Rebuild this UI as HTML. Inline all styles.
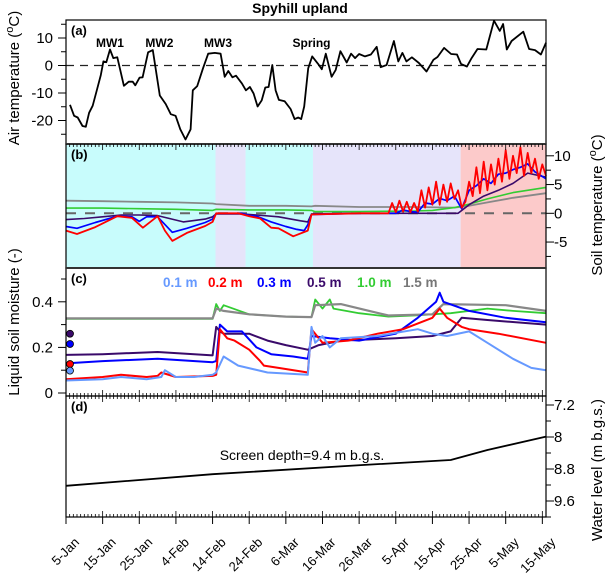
<!DOCTYPE html>
<html><head><meta charset="utf-8"><style>
html,body{margin:0;padding:0;background:#fff;}
svg{display:block;font-family:"Liberation Sans",Arial,sans-serif;}
</style></head><body>
<svg id="c" width="611" height="584" xmlns="http://www.w3.org/2000/svg"></svg>
<script>
// ---------- DATA ----------
const dateLabels = ["5-Jan","15-Jan","25-Jan","4-Feb","14-Feb","24-Feb","6-Mar","16-Mar","26-Mar","5-Apr","15-Apr","25-Apr","5-May","15-May"];
const airDays = [1.1,2.2,3.2,4.5,5.4,6.3,7.3,8.4,9.5,10.2,11,12,12.9,14,15.8,17.1,18.2,18.9,20.1,20.9,22.4,23.7,25.6,27.2,28.6,29.9,31.2,32.6,34,34.6,35.8,37.4,38.8,40.6,42.2,43.3,44.3,45.4,46.4,48,49.1,50.2,51.2,52.3,53.4,54.4,55.3,56.3,57.2,58.1,59.7,61.3,62.4,63.4,64.2,65,66.1,67.2,68.8,69.8,70.9,72.5,73.6,74.9,76.6,77.8,78.9,80,81.6,83.2,84.8,85.9,87.5,89.5,90.7,91.8,92.9,94.4,96.3,98.4,100.3,101.4,103.2,105.1,106.7,107.8,109.4,110.7,112.3,114.7,116.8,118.4,119.3,120.3,121.6,124.8,126.4,128,129.6,131];
const airTemp = [-14.3,-18.3,-18.9,-22,-22.3,-17.2,-14.6,-9,-3.5,1.5,1.2,5.8,2.7,3,-7.4,-5.9,-5.9,-7.2,-4.4,-4.3,4.8,5.6,-10.9,-14,-17.7,-18.3,-23.2,-26.9,-23.2,-9,-7.5,-1,4.3,4.6,4.3,-4.1,-2,-4.3,-3.7,-6.5,-9,-7.8,-10.2,-14.9,-12.7,-8,-7.8,0.2,-9,-12.5,-13,-15.8,-19.5,-18.9,-19.5,-14.9,-1,3.3,0.6,-1.4,4.3,-4.1,-1.6,5.2,1.1,4.3,2.7,4.2,3.3,4,6.8,-0.6,0.2,8.9,1.5,4.6,1.5,3,0.9,-2.2,2.1,3.1,6.4,4.2,4,0.6,-0.4,2.7,6,5.8,16.3,12.6,15.1,5.8,8.9,12.3,6,5.6,4,8.3];
const airLabels = ["MW1","MW2","MW3","Spring"];
const airLabelDays = [12,25.5,41.5,67];

const periodStarts = [0,40.8,49,67.4,107.7];
const periodEnds = [40.8,49,67.4,107.7,131];
const periodFill = ["#c8fcfc","#e6e4fa","#c8fcfc","#e6e4fa","#fccaca"];

// soil temperature (b)
const stGrayD=[0,10,20,30,40,41,50,60,67,68,80,95,106,110,116,122,131];
const stGrayV=[2.2,2.1,2.0,1.9,1.7,1.6,1.3,1.3,1.2,1.3,1.1,1.1,1.0,1.3,2.0,2.7,3.5];
const stGreenD=[0,10,20,30,40,41,50,60,67,68,80,95,100,106,110,115,122,131];
const stGreenV=[0.9,0.9,0.8,0.7,0.5,0.7,0.6,0.6,0.5,0.3,0.3,0.4,0.5,1.0,1.6,2.5,3.6,4.5];
const stPurpleD=[0,5,10,15,20,25,32,38,40,41,48,52,58,64,66,67,80,100,107,110,114,118,122,126,131];
const stPurpleV=[-1.1,-0.9,-0.6,-0.3,-0.3,-0.4,-1.5,-1.0,-0.6,-0.1,-0.1,-0.3,-0.6,-1.3,-1.5,-0.1,0,0,0,1.5,3,4,5.2,7,6.3];
const stBlueD=[0,3,8,14,18,20,22,25,29,33,38,40,41,48,50,52,56,60,63,65,66,67,80,90,92,94,96,98,100,102,104,106,108,110,112,114,116,118,120,122,124,126,128,131];
const stBlueV=[-2.3,-2.6,-1.6,-0.5,-0.6,-1.4,-0.6,-0.6,-3.3,-2.6,-1.6,-1.0,0,0,-0.4,-0.5,-1.5,-2.3,-2.8,-3.0,-2.0,-0.2,0,0,0.6,0.3,0.2,1.8,1.6,2.6,2.2,3.0,0.8,4.0,4.8,6.0,5.2,6.8,7.0,7.6,8.0,8.6,7.2,6.0];
const stRedD=[0,3,8,14,18,21,25,27,29,33,38,40,41,47,50,53,56,58,62,66,67,80,88,89,90,91,92,93,94,95,96,97,98,99,100,101,102,103,104,105,106,107,108,109,110,111,112,113,114,115,116,117,118,119,120,121,122,123,124,125,126,127,128,129,130,131];
const stRedV=[-3.0,-3.6,-2.4,-0.5,-0.8,-2.5,-0.5,-3.0,-4.8,-3.4,-2.2,-1.5,0,0,-0.5,-0.9,-2.5,-2.6,-4.0,-3.0,-0.2,0,0,1.8,0.2,2.2,0.3,2.0,0.2,1.8,0.3,4.0,1.0,4.5,1.5,5.5,1.5,5.0,2.0,5.2,2.5,4.0,1.0,2.0,5.5,3.0,8.0,3.5,9.0,4.0,8.5,5.0,9.5,5.5,11.0,6.0,10.0,7.0,11.5,6.5,10.5,7.0,9.5,6.0,8.5,6.5];

// soil moisture (c)
const smGrayD=[0,40,41,43,50,60,67,68,75,88,100,103,120,131];
const smGrayV=[0.327,0.327,0.37,0.36,0.345,0.335,0.333,0.385,0.39,0.34,0.345,0.39,0.385,0.36];
const smGreenD=[0,40,41,42,43,50,60,67,68,70,72,73,80,88,95,100,105,115,122,131];
const smGreenV=[0.325,0.325,0.39,0.36,0.385,0.345,0.335,0.333,0.41,0.37,0.41,0.37,0.35,0.335,0.34,0.345,0.35,0.37,0.36,0.35];
const smPurpleD=[0,10,25,40,41,42,43,50,55,60,66,69,75,90,100,105,108,115,131];
const smPurpleV=[0.167,0.17,0.18,0.165,0.29,0.27,0.26,0.26,0.23,0.21,0.19,0.21,0.23,0.24,0.25,0.27,0.33,0.32,0.30];
const smBlueD=[0,10,25,40,41,42,44,48,52,56,62,66,67,72,80,90,96,101,102,103,110,120,131];
const smBlueV=[0.13,0.14,0.15,0.135,0.14,0.30,0.27,0.27,0.20,0.17,0.16,0.15,0.25,0.24,0.23,0.26,0.33,0.40,0.44,0.40,0.36,0.33,0.31];
const smRedD=[0,10,15,22,25,26,30,40,41,42,44,46,50,53,54,58,66,67,70,77,85,92,100,102,104,108,110,118,131];
const smRedV=[0.06,0.07,0.08,0.07,0.075,0.09,0.07,0.075,0.08,0.28,0.24,0.23,0.19,0.14,0.12,0.11,0.09,0.28,0.22,0.23,0.26,0.28,0.33,0.37,0.33,0.29,0.28,0.26,0.22];
const smLightD=[0,10,15,22,26,27,30,35,40,41,43,47,55,66,67,68,70,72,75,85,96,100,104,110,115,122,127,131];
const smLightV=[0.055,0.06,0.07,0.06,0.07,0.10,0.07,0.07,0.08,0.09,0.16,0.12,0.09,0.08,0.29,0.22,0.25,0.20,0.24,0.25,0.28,0.26,0.25,0.27,0.22,0.15,0.11,0.10];
const smInitial=[0.26,0.215,0.127,0.098];
const legendLabels=["0.1 m","0.2 m","0.3 m","0.5 m","1.0 m","1.5 m"];

// water level (d)
const wlDays=[0,40,81,105,115,131];
const wlDepth=[9.22,8.93,8.7,8.575,8.325,7.99];

// ---------- HELPERS ----------
const NS="http://www.w3.org/2000/svg";
const svg=document.getElementById('c');
function mk(tag,attrs,parent){const e=document.createElementNS(NS,tag);for(const k in attrs)e.setAttribute(k,attrs[k]);(parent||svg).appendChild(e);return e;}
const X0=66,X1=546,DMAX=131;
const x=d=>X0+d*(X1-X0)/DMAX;
const yA=v=>65.5-2.75*v;
const yB=v=>213.3-5.75*v;
const yC=v=>393-228*v;
const yD=v=>405+(v-7.2)*40;
const P={a:[20,144],b:[144,268],c:[268,396],d:[396,517]};
function line(ds,vs,fy,color,w,name){
  const pts=ds.map((d,i)=>x(d).toFixed(1)+','+fy(vs[i]).toFixed(1)).join(' ');
  const el=mk('polyline',{points:pts,fill:'none',stroke:color,'stroke-width':w,'stroke-linejoin':'round'});
  
  
  return el;
}
function txt(s,attrs,name){const t=mk('text',attrs);t.textContent=s;return t;}

// title
txt("Spyhill upland",{x:300,y:13,'text-anchor':'middle','font-size':14,'font-weight':'bold'},'chart-title');

// backgrounds b
for(let i=0;i<periodStarts.length;i++){
  const r=mk('rect',{x:x(periodStarts[i]),y:P.b[0],width:x(periodEnds[i])-x(periodStarts[i]),height:P.b[1]-P.b[0],fill:periodFill[i]});
  
  
}

// panel a
mk('line',{x1:X0,x2:X1,y1:yA(0),y2:yA(0),stroke:'#222','stroke-width':1.2,'stroke-dasharray':'8,6'});
line(airDays,airTemp,yA,'#000',1.8,'air-temperature-line');
airLabels.forEach((s,i)=>txt(s,{x:x(airLabelDays[i]),y:47,'text-anchor':'middle','font-size':12,'font-weight':'bold'},'event-label'));
[-25,-20,-15,-10,-5,0,5,10,15].forEach(v=>{const maj=v%10===0;mk('line',{x1:X0,x2:X0-(maj?8:5),y1:yA(v),y2:yA(v),stroke:'#000'});if(maj)txt(String(v),{x:53,y:yA(v)+5,'text-anchor':'end','font-size':15},'y-tick-label-a');});

// panel b
mk('line',{x1:X0,x2:X1,y1:yB(0),y2:yB(0),stroke:'#666','stroke-width':2,'stroke-dasharray':'10,9'});
line(stGrayD,stGrayV,yB,'#888',1.8,'soil-temp-1.5m');
line(stGreenD,stGreenV,yB,'#33cc33',1.6,'soil-temp-1.0m');
line(stPurpleD,stPurpleV,yB,'#3a0a6a',1.6,'soil-temp-0.5m');
line(stBlueD,stBlueV,yB,'#0000ff',1.7,'soil-temp-0.3m');
line(stRedD,stRedV,yB,'#ff0000',1.8,'soil-temp-0.2m');
[-7.5,-5,-2.5,0,2.5,5,7.5,10].forEach(v=>{const maj=v%5===0;mk('line',{x1:X1,x2:X1+(maj?8:5),y1:yB(v),y2:yB(v),stroke:'#000'});if(maj)txt(String(v),{x:554,y:yB(v)+5,'font-size':15},'y-tick-label-b');});

// panel c
line(smGreenD,smGreenV,yC,'#33cc33',1.8,'moisture-1.0m');
line(smGrayD,smGrayV,yC,'#888',2.2,'moisture-1.5m');
line(smPurpleD,smPurpleV,yC,'#3a0a6a',2,'moisture-0.5m');
line(smBlueD,smBlueV,yC,'#0000ff',2,'moisture-0.3m');
line(smRedD,smRedV,yC,'#ff0000',2,'moisture-0.2m');
line(smLightD,smLightV,yC,'#6699ff',2,'moisture-0.1m');
const dotCols=['#3a0a6a','#0000ff','#ff0000','#6699ff'];
smInitial.forEach((v,i)=>{const c=mk('circle',{cx:70,cy:yC(v),r:3.5,fill:dotCols[i],stroke:'#000','stroke-width':0.8});});
const legCols=['#6699ff','#ff0000','#0000ff','#3a0a6a','#33cc33','#777'];
const legX=[163,208,257,307,357,403];
legendLabels.forEach((s,i)=>txt(s,{x:legX[i],y:287,'font-size':13.5,'font-weight':'bold',fill:legCols[i]},'legend-entry'));
[0,0.1,0.2,0.3,0.4,0.5].forEach(v=>{const maj=Math.round(v*10)%2===0;mk('line',{x1:X0,x2:X0-(maj?8:5),y1:yC(v),y2:yC(v),stroke:'#000'});if(maj)txt(v===0?'0':v.toFixed(1),{x:53,y:yC(v)+5,'text-anchor':'end','font-size':15},'y-tick-label-c');});

// panel d
line(wlDays,wlDepth,yD,'#000',1.8,'water-level-line');
txt("Screen depth=9.4 m b.g.s.",{x:302,y:460,'text-anchor':'middle','font-size':14},'screen-depth-note');
[7.2,7.6,8,8.4,8.8,9.2,9.6,10].forEach((v,i)=>{const maj=i%2===0;mk('line',{x1:X1,x2:X1+(maj?8:5),y1:yD(v),y2:yD(v),stroke:'#000'});if(maj)txt(String(v),{x:554,y:yD(v)+5,'font-size':15},'y-tick-label-d');});

// panel labels
['a','b','c','d'].forEach(k=>txt('('+k+')',{x:71,y:P[k][0]+15,'font-size':13,'font-weight':'bold'},'panel-label-'+k));

// frames
['a','b','c','d'].forEach(k=>{const r=mk('rect',{x:X0,y:P[k][0],width:X1-X0,height:P[k][1]-P[k][0],fill:'none',stroke:'#000','stroke-width':1.2});});
mk('line',{x1:X0,x2:X1,y1:P.b[0],y2:P.b[0],stroke:'#333','stroke-width':2});
mk('line',{x1:X0,x2:X1,y1:P.c[0],y2:P.c[0],stroke:'#333','stroke-width':2});

// x ticks
for(let d=0;d<=DMAX;d++){
  const maj=d%10===0, L=maj?6:3, xx=x(d);
  mk('line',{x1:xx,x2:xx,y1:P.b[0],y2:P.b[0]+L,stroke:'#000','stroke-width':0.8});
  mk('line',{x1:xx,x2:xx,y1:P.c[1],y2:P.c[1]-L,stroke:'#000','stroke-width':0.8});
  mk('line',{x1:xx,x2:xx,y1:P.d[0],y2:P.d[0]+L,stroke:'#000','stroke-width':0.8});
  mk('line',{x1:xx,x2:xx,y1:P.d[1],y2:P.d[1]-L,stroke:'#000','stroke-width':0.8});
  if(maj) mk('line',{x1:xx,x2:xx,y1:P.d[1],y2:P.d[1]+7,stroke:'#000','stroke-width':1});
}
dateLabels.forEach((s,i)=>{const xx=x(i*10)+14, yy=543;txt(s,{x:xx,y:yy,'text-anchor':'end','font-size':13,transform:`rotate(-45 ${xx} ${yy})`},'x-tick-label');});

// axis titles
function vtitle(html,cx,cy,rot,name){const t=mk('text',{x:cx,y:cy,'text-anchor':'middle','font-size':15,transform:`rotate(${rot} ${cx} ${cy})`});t.innerHTML=html;}
vtitle('Air temperature (<tspan dy="-6" font-size="11">o</tspan><tspan dy="6">C)</tspan>',19,78,-90,'y-axis-title-air');
vtitle('Liquid soil moisture (-)',19,322,-90,'y-axis-title-moisture');
vtitle('Soil temperature (<tspan dy="-6" font-size="11">o</tspan><tspan dy="6">C)</tspan>',602,205,-90,'y-axis-title-soil-temp');
vtitle('Water level (m b.g.s.)',602,470,-90,'y-axis-title-water-level');
</script>
</body></html>
